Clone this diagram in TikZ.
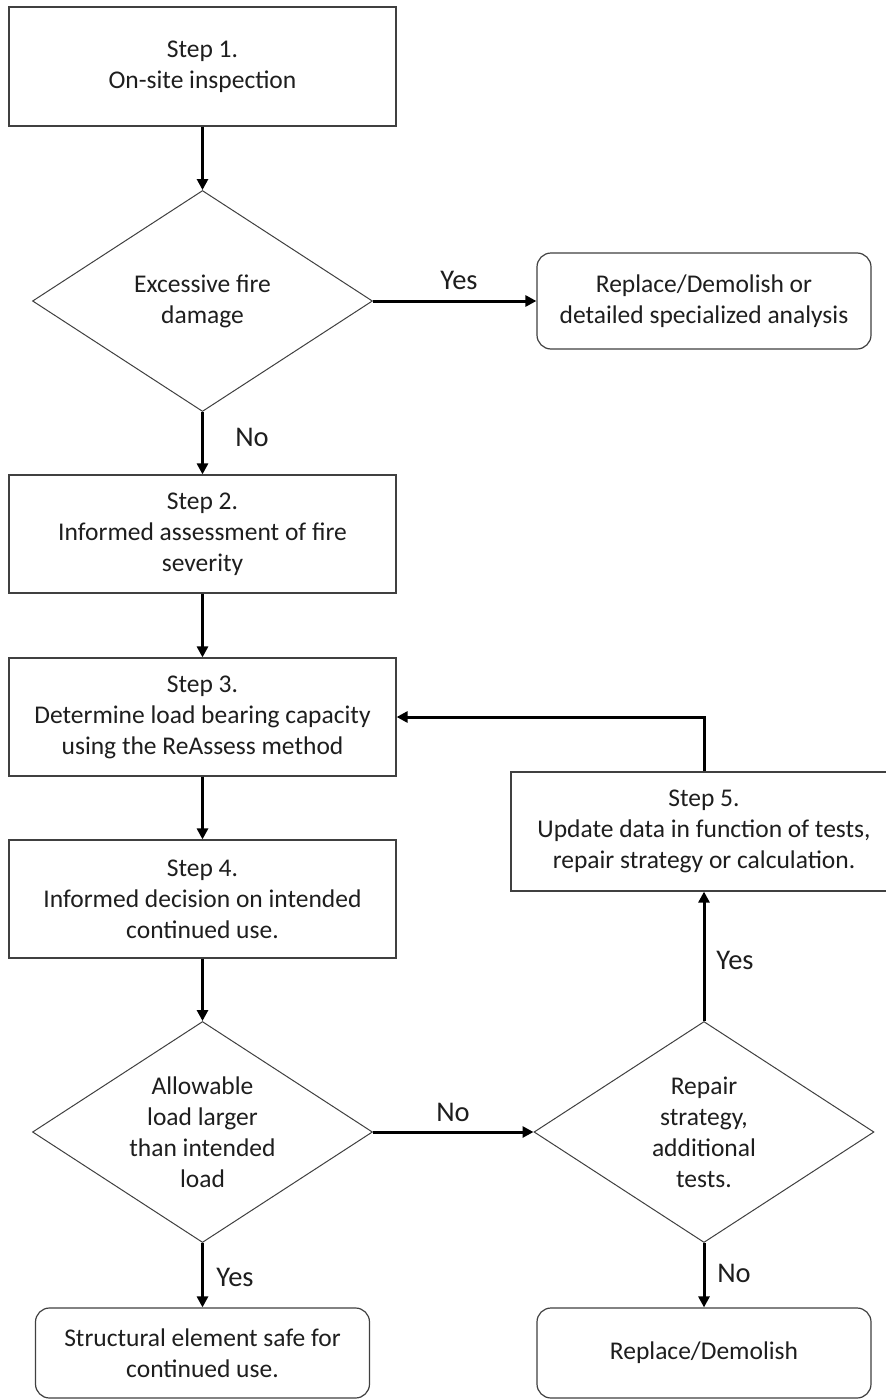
\documentclass[tikz,border=0pt]{standalone}
\usepackage{fontspec}
\setmainfont{Carlito}
\usetikzlibrary{arrows.meta,shapes.geometric}
\definecolor{edge}{HTML}{404040}
\definecolor{ink}{HTML}{1E1E1E}
\begin{document}
\begin{tikzpicture}[x=1pt,y=-1pt,
  boxtxt/.style={font=\fontsize{25.5}{31}\selectfont, text=ink, align=center},
  stepbox/.style={rectangle, draw=edge, line width=1.2pt, minimum width=387pt, minimum height=118pt, inner sep=0pt, boxtxt},
  endbox/.style={rectangle, rounded corners=14pt, draw=edge, line width=1.2pt, minimum width=334pt, inner sep=0pt, boxtxt},
  dia/.style={diamond, draw=edge, line width=1pt, minimum width=340pt, minimum height=221pt, inner sep=0pt},
  conn/.style={line width=3pt, draw=black, -{Triangle[length=11pt,width=11pt]}},
  lbl/.style={font=\fontsize{28.5}{34}\selectfont, text=ink, inner sep=0pt}
]
\useasboundingbox (0,0) rectangle (886,1400);
\fill[white] (0,0) rectangle (886,1400);
\clip (0,0) rectangle (886,1400);

% left column
\node[stepbox, minimum height=119pt] (s1) at (202.5,66.5) {Step 1.\\On-site inspection};
\node[dia] (d1) at (202.5,301) {};
\node[boxtxt] (t1) at (d1) {Excessive fire\\damage};
\node[endbox, minimum height=96pt] (r1) at (704,301) {Replace/Demolish or\\detailed specialized analysis};
\node[stepbox] (s2) at (202.5,534) {Step 2.\\Informed assessment of fire\\severity};
\node[stepbox] (s3) at (202.5,717) {Step 3.\\Determine load bearing capacity\\using the ReAssess method};
\node[stepbox] (s4) at (202.5,899) {Step 4.\\Informed decision on intended\\continued use.};
\node[dia] (d2) at (202.5,1132) {};
\node[boxtxt] (t2) at (d2) {Allowable\\load larger\\than intended\\load};
\node[endbox, minimum height=90pt] (b1) at (202.5,1353) {Structural element safe for\\continued use.};

% right column
\node[stepbox, minimum width=386pt, minimum height=119pt] (s5) at (704,831.5) {Step 5.\\Update data in function of tests,\\repair strategy or calculation.};
\node[dia] (d3) at (704,1132) {};
\node[boxtxt] (t3) at (d3) {Repair\\strategy,\\additional\\tests.};
\node[endbox, minimum height=90pt] (b2) at (704,1353) {Replace/Demolish};

% connectors
\draw[conn] (s1.south) -- (d1.north);
\draw[conn] (d1.east) -- (r1.west);
\draw[conn] (d1.south) -- (s2.north);
\draw[conn] (s2.south) -- (s3.north);
\draw[conn] (s3.south) -- (s4.north);
\draw[conn] (s4.south) -- (d2.north);
\draw[conn] (d2.east) -- (d3.west);
\draw[conn] (d2.south) -- (b1.north);
\draw[conn] (d3.south) -- (b2.north);
\draw[conn] (d3.north) -- (s5.south);
\draw[conn] (s5.north) |- (s3.east);

% labels
\node[lbl] (l1) at (459,280) {Yes};
\node[lbl] (l2) at (252,437) {No};
\node[lbl] (l3) at (453,1112) {No};
\node[lbl] (l4) at (235,1277) {Yes};
\node[lbl] (l5) at (734,1273) {No};
\node[lbl] (l6) at (735,960) {Yes};
\end{tikzpicture}
\end{document}
